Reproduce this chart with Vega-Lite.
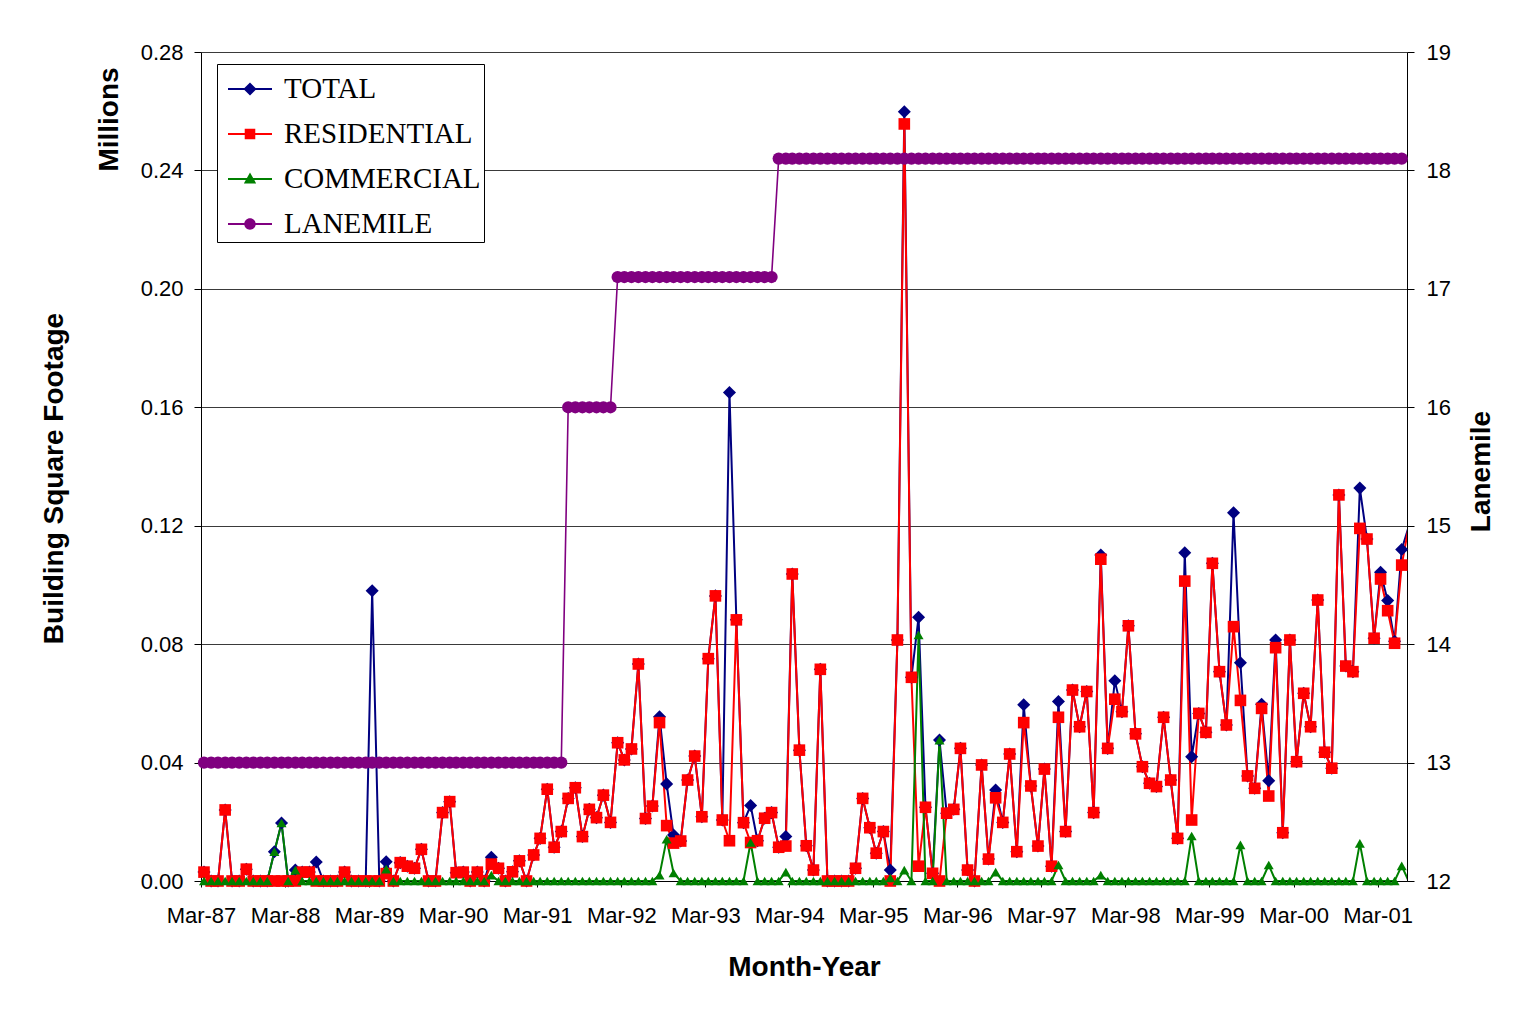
{
"$schema":"https://vega.github.io/schema/vega-lite/v6.json",
"autosize":{"type":"none"},
"padding":{"left":201,"top":52,"right":126,"bottom":139},
"width":1206,"height":829,
"background":"white",
"config":{"view":{"stroke":null},"font":"Liberation Sans",
 "legend":{"strokeWidth":1},
 "axis":{"labelFont":"Liberation Sans","titleFont":"Liberation Sans","labelColor":"black","titleColor":"black","tickColor":"black","domainColor":"black","labelFontSize":22,"titleFontSize":28,"titleFontWeight":"bold"}},
"data":{"values":[
{"d":"1987-02-14","TOTAL":0.0055,"RESIDENTIAL":0.0055,"COMMERCIAL":0,"LANEMILE":13},
{"d":"1987-03-14","TOTAL":0.003,"RESIDENTIAL":0.003,"COMMERCIAL":0,"LANEMILE":13},
{"d":"1987-04-14","TOTAL":0,"RESIDENTIAL":0,"COMMERCIAL":0,"LANEMILE":13},
{"d":"1987-05-14","TOTAL":0,"RESIDENTIAL":0,"COMMERCIAL":0,"LANEMILE":13},
{"d":"1987-06-14","TOTAL":0.024,"RESIDENTIAL":0.024,"COMMERCIAL":0,"LANEMILE":13},
{"d":"1987-07-14","TOTAL":0,"RESIDENTIAL":0,"COMMERCIAL":0,"LANEMILE":13},
{"d":"1987-08-14","TOTAL":0,"RESIDENTIAL":0,"COMMERCIAL":0,"LANEMILE":13},
{"d":"1987-09-14","TOTAL":0.004,"RESIDENTIAL":0.004,"COMMERCIAL":0,"LANEMILE":13},
{"d":"1987-10-14","TOTAL":0,"RESIDENTIAL":0,"COMMERCIAL":0,"LANEMILE":13},
{"d":"1987-11-14","TOTAL":0,"RESIDENTIAL":0,"COMMERCIAL":0,"LANEMILE":13},
{"d":"1987-12-14","TOTAL":0,"RESIDENTIAL":0,"COMMERCIAL":0,"LANEMILE":13},
{"d":"1988-01-14","TOTAL":0.0099,"RESIDENTIAL":0,"COMMERCIAL":0.0099,"LANEMILE":13},
{"d":"1988-02-14","TOTAL":0.0196,"RESIDENTIAL":0,"COMMERCIAL":0.0196,"LANEMILE":13},
{"d":"1988-03-14","TOTAL":0,"RESIDENTIAL":0,"COMMERCIAL":0,"LANEMILE":13},
{"d":"1988-04-14","TOTAL":0.0037,"RESIDENTIAL":0,"COMMERCIAL":0.0037,"LANEMILE":13},
{"d":"1988-05-14","TOTAL":0.003,"RESIDENTIAL":0.003,"COMMERCIAL":0,"LANEMILE":13},
{"d":"1988-06-14","TOTAL":0.003,"RESIDENTIAL":0.003,"COMMERCIAL":0,"LANEMILE":13},
{"d":"1988-07-14","TOTAL":0.0064,"RESIDENTIAL":0,"COMMERCIAL":0,"LANEMILE":13},
{"d":"1988-08-14","TOTAL":0,"RESIDENTIAL":0,"COMMERCIAL":0,"LANEMILE":13},
{"d":"1988-09-14","TOTAL":0,"RESIDENTIAL":0,"COMMERCIAL":0,"LANEMILE":13},
{"d":"1988-10-14","TOTAL":0,"RESIDENTIAL":0,"COMMERCIAL":0,"LANEMILE":13},
{"d":"1988-11-14","TOTAL":0.003,"RESIDENTIAL":0.003,"COMMERCIAL":0,"LANEMILE":13},
{"d":"1988-12-14","TOTAL":0,"RESIDENTIAL":0,"COMMERCIAL":0,"LANEMILE":13},
{"d":"1989-01-14","TOTAL":0,"RESIDENTIAL":0,"COMMERCIAL":0,"LANEMILE":13},
{"d":"1989-02-14","TOTAL":0,"RESIDENTIAL":0,"COMMERCIAL":0,"LANEMILE":13},
{"d":"1989-03-14","TOTAL":0.098,"RESIDENTIAL":0,"COMMERCIAL":0,"LANEMILE":13},
{"d":"1989-04-14","TOTAL":0,"RESIDENTIAL":0,"COMMERCIAL":0,"LANEMILE":13},
{"d":"1989-05-14","TOTAL":0.0065,"RESIDENTIAL":0.0025,"COMMERCIAL":0.004,"LANEMILE":13},
{"d":"1989-06-14","TOTAL":0,"RESIDENTIAL":0,"COMMERCIAL":0,"LANEMILE":13},
{"d":"1989-07-14","TOTAL":0.0062,"RESIDENTIAL":0.0062,"COMMERCIAL":0,"LANEMILE":13},
{"d":"1989-08-14","TOTAL":0.005,"RESIDENTIAL":0.005,"COMMERCIAL":0,"LANEMILE":13},
{"d":"1989-09-14","TOTAL":0.0043,"RESIDENTIAL":0.0043,"COMMERCIAL":0,"LANEMILE":13},
{"d":"1989-10-14","TOTAL":0.0107,"RESIDENTIAL":0.0107,"COMMERCIAL":0,"LANEMILE":13},
{"d":"1989-11-14","TOTAL":0,"RESIDENTIAL":0,"COMMERCIAL":0,"LANEMILE":13},
{"d":"1989-12-14","TOTAL":0,"RESIDENTIAL":0,"COMMERCIAL":0,"LANEMILE":13},
{"d":"1990-01-14","TOTAL":0.0231,"RESIDENTIAL":0.0231,"COMMERCIAL":0,"LANEMILE":13},
{"d":"1990-02-14","TOTAL":0.0268,"RESIDENTIAL":0.0268,"COMMERCIAL":0,"LANEMILE":13},
{"d":"1990-03-14","TOTAL":0.0028,"RESIDENTIAL":0.0028,"COMMERCIAL":0,"LANEMILE":13},
{"d":"1990-04-14","TOTAL":0.003,"RESIDENTIAL":0.003,"COMMERCIAL":0,"LANEMILE":13},
{"d":"1990-05-14","TOTAL":0,"RESIDENTIAL":0,"COMMERCIAL":0,"LANEMILE":13},
{"d":"1990-06-14","TOTAL":0.003,"RESIDENTIAL":0.003,"COMMERCIAL":0,"LANEMILE":13},
{"d":"1990-07-14","TOTAL":0,"RESIDENTIAL":0,"COMMERCIAL":0,"LANEMILE":13},
{"d":"1990-08-14","TOTAL":0.008,"RESIDENTIAL":0.0057,"COMMERCIAL":0.002,"LANEMILE":13},
{"d":"1990-09-14","TOTAL":0.0043,"RESIDENTIAL":0.0043,"COMMERCIAL":0,"LANEMILE":13},
{"d":"1990-10-14","TOTAL":0,"RESIDENTIAL":0,"COMMERCIAL":0,"LANEMILE":13},
{"d":"1990-11-14","TOTAL":0.0031,"RESIDENTIAL":0.0031,"COMMERCIAL":0,"LANEMILE":13},
{"d":"1990-12-14","TOTAL":0.0068,"RESIDENTIAL":0.0068,"COMMERCIAL":0,"LANEMILE":13},
{"d":"1991-01-14","TOTAL":0,"RESIDENTIAL":0,"COMMERCIAL":0,"LANEMILE":13},
{"d":"1991-02-14","TOTAL":0.0088,"RESIDENTIAL":0.0088,"COMMERCIAL":0,"LANEMILE":13},
{"d":"1991-03-14","TOTAL":0.0144,"RESIDENTIAL":0.0144,"COMMERCIAL":0,"LANEMILE":13},
{"d":"1991-04-14","TOTAL":0.031,"RESIDENTIAL":0.031,"COMMERCIAL":0,"LANEMILE":13},
{"d":"1991-05-14","TOTAL":0.0114,"RESIDENTIAL":0.0114,"COMMERCIAL":0,"LANEMILE":13},
{"d":"1991-06-14","TOTAL":0.0167,"RESIDENTIAL":0.0167,"COMMERCIAL":0,"LANEMILE":13},
{"d":"1991-07-14","TOTAL":0.0279,"RESIDENTIAL":0.0279,"COMMERCIAL":0,"LANEMILE":16},
{"d":"1991-08-14","TOTAL":0.0315,"RESIDENTIAL":0.0315,"COMMERCIAL":0,"LANEMILE":16},
{"d":"1991-09-14","TOTAL":0.015,"RESIDENTIAL":0.015,"COMMERCIAL":0,"LANEMILE":16},
{"d":"1991-10-14","TOTAL":0.0242,"RESIDENTIAL":0.0242,"COMMERCIAL":0,"LANEMILE":16},
{"d":"1991-11-14","TOTAL":0.0214,"RESIDENTIAL":0.0214,"COMMERCIAL":0,"LANEMILE":16},
{"d":"1991-12-14","TOTAL":0.029,"RESIDENTIAL":0.029,"COMMERCIAL":0,"LANEMILE":16},
{"d":"1992-01-14","TOTAL":0.0198,"RESIDENTIAL":0.0198,"COMMERCIAL":0,"LANEMILE":16},
{"d":"1992-02-14","TOTAL":0.0467,"RESIDENTIAL":0.0467,"COMMERCIAL":0,"LANEMILE":17.1},
{"d":"1992-03-14","TOTAL":0.0409,"RESIDENTIAL":0.0409,"COMMERCIAL":0,"LANEMILE":17.1},
{"d":"1992-04-14","TOTAL":0.0446,"RESIDENTIAL":0.0446,"COMMERCIAL":0,"LANEMILE":17.1},
{"d":"1992-05-14","TOTAL":0.0733,"RESIDENTIAL":0.0733,"COMMERCIAL":0,"LANEMILE":17.1},
{"d":"1992-06-14","TOTAL":0.0211,"RESIDENTIAL":0.0211,"COMMERCIAL":0,"LANEMILE":17.1},
{"d":"1992-07-14","TOTAL":0.0253,"RESIDENTIAL":0.0253,"COMMERCIAL":0,"LANEMILE":17.1},
{"d":"1992-08-14","TOTAL":0.0555,"RESIDENTIAL":0.0535,"COMMERCIAL":0.002,"LANEMILE":17.1},
{"d":"1992-09-14","TOTAL":0.0328,"RESIDENTIAL":0.0187,"COMMERCIAL":0.0141,"LANEMILE":17.1},
{"d":"1992-10-14","TOTAL":0.0155,"RESIDENTIAL":0.0128,"COMMERCIAL":0.0027,"LANEMILE":17.1},
{"d":"1992-11-14","TOTAL":0.0135,"RESIDENTIAL":0.0135,"COMMERCIAL":0,"LANEMILE":17.1},
{"d":"1992-12-14","TOTAL":0.0341,"RESIDENTIAL":0.0341,"COMMERCIAL":0,"LANEMILE":17.1},
{"d":"1993-01-14","TOTAL":0.0422,"RESIDENTIAL":0.0422,"COMMERCIAL":0,"LANEMILE":17.1},
{"d":"1993-02-14","TOTAL":0.0217,"RESIDENTIAL":0.0217,"COMMERCIAL":0,"LANEMILE":17.1},
{"d":"1993-03-14","TOTAL":0.0751,"RESIDENTIAL":0.0751,"COMMERCIAL":0,"LANEMILE":17.1},
{"d":"1993-04-14","TOTAL":0.0963,"RESIDENTIAL":0.0963,"COMMERCIAL":0,"LANEMILE":17.1},
{"d":"1993-05-14","TOTAL":0.0206,"RESIDENTIAL":0.0206,"COMMERCIAL":0,"LANEMILE":17.1},
{"d":"1993-06-14","TOTAL":0.165,"RESIDENTIAL":0.0136,"COMMERCIAL":0,"LANEMILE":17.1},
{"d":"1993-07-14","TOTAL":0.0882,"RESIDENTIAL":0.0882,"COMMERCIAL":0,"LANEMILE":17.1},
{"d":"1993-08-14","TOTAL":0.0197,"RESIDENTIAL":0.0197,"COMMERCIAL":0,"LANEMILE":17.1},
{"d":"1993-09-14","TOTAL":0.0255,"RESIDENTIAL":0.013,"COMMERCIAL":0.013,"LANEMILE":17.1},
{"d":"1993-10-14","TOTAL":0.0136,"RESIDENTIAL":0.0136,"COMMERCIAL":0,"LANEMILE":17.1},
{"d":"1993-11-14","TOTAL":0.0212,"RESIDENTIAL":0.0212,"COMMERCIAL":0,"LANEMILE":17.1},
{"d":"1993-12-14","TOTAL":0.0231,"RESIDENTIAL":0.0231,"COMMERCIAL":0,"LANEMILE":17.1},
{"d":"1994-01-14","TOTAL":0.0114,"RESIDENTIAL":0.0114,"COMMERCIAL":0,"LANEMILE":18.1},
{"d":"1994-02-14","TOTAL":0.015,"RESIDENTIAL":0.0118,"COMMERCIAL":0.003,"LANEMILE":18.1},
{"d":"1994-03-14","TOTAL":0.1037,"RESIDENTIAL":0.1037,"COMMERCIAL":0,"LANEMILE":18.1},
{"d":"1994-04-14","TOTAL":0.0442,"RESIDENTIAL":0.0442,"COMMERCIAL":0,"LANEMILE":18.1},
{"d":"1994-05-14","TOTAL":0.0119,"RESIDENTIAL":0.0119,"COMMERCIAL":0,"LANEMILE":18.1},
{"d":"1994-06-14","TOTAL":0.0037,"RESIDENTIAL":0.0037,"COMMERCIAL":0,"LANEMILE":18.1},
{"d":"1994-07-14","TOTAL":0.0715,"RESIDENTIAL":0.0715,"COMMERCIAL":0,"LANEMILE":18.1},
{"d":"1994-08-14","TOTAL":0,"RESIDENTIAL":0,"COMMERCIAL":0,"LANEMILE":18.1},
{"d":"1994-09-14","TOTAL":0,"RESIDENTIAL":0,"COMMERCIAL":0,"LANEMILE":18.1},
{"d":"1994-10-14","TOTAL":0,"RESIDENTIAL":0,"COMMERCIAL":0,"LANEMILE":18.1},
{"d":"1994-11-14","TOTAL":0,"RESIDENTIAL":0,"COMMERCIAL":0,"LANEMILE":18.1},
{"d":"1994-12-14","TOTAL":0.0043,"RESIDENTIAL":0.0043,"COMMERCIAL":0,"LANEMILE":18.1},
{"d":"1995-01-14","TOTAL":0.0279,"RESIDENTIAL":0.0279,"COMMERCIAL":0,"LANEMILE":18.1},
{"d":"1995-02-14","TOTAL":0.018,"RESIDENTIAL":0.018,"COMMERCIAL":0,"LANEMILE":18.1},
{"d":"1995-03-14","TOTAL":0.0094,"RESIDENTIAL":0.0094,"COMMERCIAL":0,"LANEMILE":18.1},
{"d":"1995-04-14","TOTAL":0.0167,"RESIDENTIAL":0.0167,"COMMERCIAL":0,"LANEMILE":18.1},
{"d":"1995-05-14","TOTAL":0.0037,"RESIDENTIAL":0,"COMMERCIAL":0.001,"LANEMILE":18.1},
{"d":"1995-06-14","TOTAL":0.0814,"RESIDENTIAL":0.0814,"COMMERCIAL":0,"LANEMILE":18.1},
{"d":"1995-07-14","TOTAL":0.2598,"RESIDENTIAL":0.2557,"COMMERCIAL":0.0037,"LANEMILE":18.1},
{"d":"1995-08-14","TOTAL":0.0688,"RESIDENTIAL":0.0688,"COMMERCIAL":0,"LANEMILE":18.1},
{"d":"1995-09-14","TOTAL":0.0891,"RESIDENTIAL":0.005,"COMMERCIAL":0.0831,"LANEMILE":18.1},
{"d":"1995-10-14","TOTAL":0.0249,"RESIDENTIAL":0.0249,"COMMERCIAL":0,"LANEMILE":18.1},
{"d":"1995-11-14","TOTAL":0.0026,"RESIDENTIAL":0.0026,"COMMERCIAL":0,"LANEMILE":18.1},
{"d":"1995-12-14","TOTAL":0.0476,"RESIDENTIAL":0,"COMMERCIAL":0.0476,"LANEMILE":18.1},
{"d":"1996-01-14","TOTAL":0.0229,"RESIDENTIAL":0.0229,"COMMERCIAL":0,"LANEMILE":18.1},
{"d":"1996-02-14","TOTAL":0.0242,"RESIDENTIAL":0.0242,"COMMERCIAL":0,"LANEMILE":18.1},
{"d":"1996-03-14","TOTAL":0.0448,"RESIDENTIAL":0.0448,"COMMERCIAL":0,"LANEMILE":18.1},
{"d":"1996-04-14","TOTAL":0.0037,"RESIDENTIAL":0.0037,"COMMERCIAL":0,"LANEMILE":18.1},
{"d":"1996-05-14","TOTAL":0,"RESIDENTIAL":0,"COMMERCIAL":0,"LANEMILE":18.1},
{"d":"1996-06-14","TOTAL":0.0392,"RESIDENTIAL":0.0392,"COMMERCIAL":0,"LANEMILE":18.1},
{"d":"1996-07-14","TOTAL":0.0074,"RESIDENTIAL":0.0074,"COMMERCIAL":0,"LANEMILE":18.1},
{"d":"1996-08-14","TOTAL":0.0307,"RESIDENTIAL":0.0281,"COMMERCIAL":0.003,"LANEMILE":18.1},
{"d":"1996-09-14","TOTAL":0.0198,"RESIDENTIAL":0.0198,"COMMERCIAL":0,"LANEMILE":18.1},
{"d":"1996-10-14","TOTAL":0.0429,"RESIDENTIAL":0.0429,"COMMERCIAL":0,"LANEMILE":18.1},
{"d":"1996-11-14","TOTAL":0.0099,"RESIDENTIAL":0.0099,"COMMERCIAL":0,"LANEMILE":18.1},
{"d":"1996-12-14","TOTAL":0.0595,"RESIDENTIAL":0.0535,"COMMERCIAL":0,"LANEMILE":18.1},
{"d":"1997-01-14","TOTAL":0.0321,"RESIDENTIAL":0.0321,"COMMERCIAL":0,"LANEMILE":18.1},
{"d":"1997-02-14","TOTAL":0.0118,"RESIDENTIAL":0.0118,"COMMERCIAL":0,"LANEMILE":18.1},
{"d":"1997-03-14","TOTAL":0.0378,"RESIDENTIAL":0.0378,"COMMERCIAL":0,"LANEMILE":18.1},
{"d":"1997-04-14","TOTAL":0.005,"RESIDENTIAL":0.005,"COMMERCIAL":0,"LANEMILE":18.1},
{"d":"1997-05-14","TOTAL":0.0606,"RESIDENTIAL":0.0553,"COMMERCIAL":0.0054,"LANEMILE":18.1},
{"d":"1997-06-14","TOTAL":0.0167,"RESIDENTIAL":0.0167,"COMMERCIAL":0,"LANEMILE":18.1},
{"d":"1997-07-14","TOTAL":0.0645,"RESIDENTIAL":0.0645,"COMMERCIAL":0,"LANEMILE":18.1},
{"d":"1997-08-14","TOTAL":0.0521,"RESIDENTIAL":0.0521,"COMMERCIAL":0,"LANEMILE":18.1},
{"d":"1997-09-14","TOTAL":0.064,"RESIDENTIAL":0.064,"COMMERCIAL":0,"LANEMILE":18.1},
{"d":"1997-10-14","TOTAL":0.0231,"RESIDENTIAL":0.0231,"COMMERCIAL":0,"LANEMILE":18.1},
{"d":"1997-11-14","TOTAL":0.1101,"RESIDENTIAL":0.1087,"COMMERCIAL":0.002,"LANEMILE":18.1},
{"d":"1997-12-14","TOTAL":0.0448,"RESIDENTIAL":0.0448,"COMMERCIAL":0,"LANEMILE":18.1},
{"d":"1998-01-14","TOTAL":0.0676,"RESIDENTIAL":0.0614,"COMMERCIAL":0,"LANEMILE":18.1},
{"d":"1998-02-14","TOTAL":0.0572,"RESIDENTIAL":0.0572,"COMMERCIAL":0,"LANEMILE":18.1},
{"d":"1998-03-14","TOTAL":0.0862,"RESIDENTIAL":0.0862,"COMMERCIAL":0,"LANEMILE":18.1},
{"d":"1998-04-14","TOTAL":0.0497,"RESIDENTIAL":0.0497,"COMMERCIAL":0,"LANEMILE":18.1},
{"d":"1998-05-14","TOTAL":0.0386,"RESIDENTIAL":0.0386,"COMMERCIAL":0,"LANEMILE":18.1},
{"d":"1998-06-14","TOTAL":0.033,"RESIDENTIAL":0.033,"COMMERCIAL":0,"LANEMILE":18.1},
{"d":"1998-07-14","TOTAL":0.0319,"RESIDENTIAL":0.0319,"COMMERCIAL":0,"LANEMILE":18.1},
{"d":"1998-08-14","TOTAL":0.0553,"RESIDENTIAL":0.0553,"COMMERCIAL":0,"LANEMILE":18.1},
{"d":"1998-09-14","TOTAL":0.0341,"RESIDENTIAL":0.0341,"COMMERCIAL":0,"LANEMILE":18.1},
{"d":"1998-10-14","TOTAL":0.0144,"RESIDENTIAL":0.0144,"COMMERCIAL":0,"LANEMILE":18.1},
{"d":"1998-11-14","TOTAL":0.1109,"RESIDENTIAL":0.1013,"COMMERCIAL":0,"LANEMILE":18.1},
{"d":"1998-12-14","TOTAL":0.042,"RESIDENTIAL":0.0206,"COMMERCIAL":0.0152,"LANEMILE":18.1},
{"d":"1999-01-14","TOTAL":0.0566,"RESIDENTIAL":0.0566,"COMMERCIAL":0,"LANEMILE":18.1},
{"d":"1999-02-14","TOTAL":0.0502,"RESIDENTIAL":0.0502,"COMMERCIAL":0,"LANEMILE":18.1},
{"d":"1999-03-14","TOTAL":0.1073,"RESIDENTIAL":0.1073,"COMMERCIAL":0,"LANEMILE":18.1},
{"d":"1999-04-14","TOTAL":0.0707,"RESIDENTIAL":0.0707,"COMMERCIAL":0,"LANEMILE":18.1},
{"d":"1999-05-14","TOTAL":0.0527,"RESIDENTIAL":0.0527,"COMMERCIAL":0,"LANEMILE":18.1},
{"d":"1999-06-14","TOTAL":0.1244,"RESIDENTIAL":0.0859,"COMMERCIAL":0,"LANEMILE":18.1},
{"d":"1999-07-14","TOTAL":0.0737,"RESIDENTIAL":0.061,"COMMERCIAL":0.0122,"LANEMILE":18.1},
{"d":"1999-08-14","TOTAL":0.0355,"RESIDENTIAL":0.0355,"COMMERCIAL":0,"LANEMILE":18.1},
{"d":"1999-09-14","TOTAL":0.0313,"RESIDENTIAL":0.0313,"COMMERCIAL":0,"LANEMILE":18.1},
{"d":"1999-10-14","TOTAL":0.0597,"RESIDENTIAL":0.0583,"COMMERCIAL":0,"LANEMILE":18.1},
{"d":"1999-11-14","TOTAL":0.0339,"RESIDENTIAL":0.0287,"COMMERCIAL":0.0054,"LANEMILE":18.1},
{"d":"1999-12-14","TOTAL":0.0814,"RESIDENTIAL":0.0788,"COMMERCIAL":0,"LANEMILE":18.1},
{"d":"2000-01-14","TOTAL":0.0163,"RESIDENTIAL":0.0163,"COMMERCIAL":0,"LANEMILE":18.1},
{"d":"2000-02-14","TOTAL":0.0814,"RESIDENTIAL":0.0814,"COMMERCIAL":0,"LANEMILE":18.1},
{"d":"2000-03-14","TOTAL":0.0403,"RESIDENTIAL":0.0403,"COMMERCIAL":0,"LANEMILE":18.1},
{"d":"2000-04-14","TOTAL":0.0634,"RESIDENTIAL":0.0634,"COMMERCIAL":0,"LANEMILE":18.1},
{"d":"2000-05-14","TOTAL":0.0521,"RESIDENTIAL":0.0521,"COMMERCIAL":0,"LANEMILE":18.1},
{"d":"2000-06-14","TOTAL":0.0949,"RESIDENTIAL":0.0949,"COMMERCIAL":0,"LANEMILE":18.1},
{"d":"2000-07-14","TOTAL":0.0435,"RESIDENTIAL":0.0435,"COMMERCIAL":0,"LANEMILE":18.1},
{"d":"2000-08-14","TOTAL":0.0381,"RESIDENTIAL":0.0381,"COMMERCIAL":0,"LANEMILE":18.1},
{"d":"2000-09-14","TOTAL":0.1304,"RESIDENTIAL":0.1304,"COMMERCIAL":0,"LANEMILE":18.1},
{"d":"2000-10-14","TOTAL":0.0726,"RESIDENTIAL":0.0726,"COMMERCIAL":0,"LANEMILE":18.1},
{"d":"2000-11-14","TOTAL":0.0707,"RESIDENTIAL":0.0707,"COMMERCIAL":0,"LANEMILE":18.1},
{"d":"2000-12-14","TOTAL":0.1327,"RESIDENTIAL":0.1191,"COMMERCIAL":0.0127,"LANEMILE":18.1},
{"d":"2001-01-14","TOTAL":0.1155,"RESIDENTIAL":0.1155,"COMMERCIAL":0,"LANEMILE":18.1},
{"d":"2001-02-14","TOTAL":0.082,"RESIDENTIAL":0.082,"COMMERCIAL":0,"LANEMILE":18.1},
{"d":"2001-03-14","TOTAL":0.1043,"RESIDENTIAL":0.102,"COMMERCIAL":0,"LANEMILE":18.1},
{"d":"2001-04-14","TOTAL":0.0947,"RESIDENTIAL":0.0913,"COMMERCIAL":0,"LANEMILE":18.1},
{"d":"2001-05-14","TOTAL":0.081,"RESIDENTIAL":0.0803,"COMMERCIAL":0,"LANEMILE":18.1},
{"d":"2001-06-14","TOTAL":0.112,"RESIDENTIAL":0.1067,"COMMERCIAL":0.0051,"LANEMILE":18.1},
{"d":"2001-07-14","TOTAL":0.1196,"RESIDENTIAL":0.1196,"COMMERCIAL":0,"LANEMILE":18.1},
{"d":"2001-08-14","TOTAL":0.105,"RESIDENTIAL":0.105,"COMMERCIAL":0,"LANEMILE":18.1}
]},
"layer":[
{
 "transform":[{"fold":["TOTAL","RESIDENTIAL","COMMERCIAL"],"as":["k","v"]}],
 "mark":{"type":"line","strokeWidth":2,"clip":true},
 "encoding":{
  "x":{"field":"d","type":"temporal","title":"Month-Year",
   "scale":{"type":"utc","domain":["1987-03-01T00:00:00Z","2001-07-07T00:00:00Z"]},
   "axis":{"values":["1987-03-01T00:00:00Z","1988-03-01T00:00:00Z","1989-03-01T00:00:00Z","1990-03-01T00:00:00Z","1991-03-01T00:00:00Z","1992-03-01T00:00:00Z","1993-03-01T00:00:00Z","1994-03-01T00:00:00Z","1995-03-01T00:00:00Z","1996-03-01T00:00:00Z","1997-03-01T00:00:00Z","1998-03-01T00:00:00Z","1999-03-01T00:00:00Z","2000-03-01T00:00:00Z","2001-03-01T00:00:00Z"],
    "format":"%b-%y","grid":false,"tickSize":6,"labelPadding":18,"titlePadding":27,"labelOverlap":false,"labelFlush":false}},
  "y":{"field":"v","type":"quantitative","scale":{"domain":[0,0.28],"nice":false},
   "axis":{"orient":"left","values":[0,0.04,0.08,0.12,0.16,0.2,0.24,0.28],"format":".2f","grid":true,"gridColor":"#3a3a3a","gridWidth":1,"tickSize":7,"labelPadding":11,
    "title":"Building Square Footage","titleAngle":270,"titleX":-139,"titleY":426,"titleAlign":"center","titleBaseline":"alphabetic"}},
  "color":{"field":"k","type":"nominal","legend":null,
   "scale":{"domain":["TOTAL","RESIDENTIAL","COMMERCIAL"],"range":["#000080","#FF0000","#008000"]}}
 }
},
{
 "transform":[{"filter":"false"}],
 "mark":{"type":"point","filled":true,"opacity":1},
 "encoding":{
  "x":{"field":"d","type":"temporal","scale":{"type":"utc","domain":["1987-03-01T00:00:00Z","2001-07-07T00:00:00Z"]}},
  "y":{"field":"TOTAL","type":"quantitative","scale":{"domain":[0,0.28],"nice":false},
   "axis":{"orient":"left","labels":false,"ticks":false,"domain":false,"grid":false,
    "title":"Millions","titleAngle":270,"titleX":-84,"titleY":67,"titleAlign":"center","titleBaseline":"alphabetic"}}
 }
},
{
 "transform":[{"fold":["TOTAL","RESIDENTIAL","COMMERCIAL"],"as":["k","v"]},
  {"filter":"time(datum.d) > utc(1987,2,1) && time(datum.d) < utc(2001,6,7)"}],
 "mark":{"type":"point","filled":true,"opacity":1},
 "encoding":{
  "x":{"field":"d","type":"temporal","scale":{"type":"utc","domain":["1987-03-01T00:00:00Z","2001-07-07T00:00:00Z"]}},
  "y":{"field":"v","type":"quantitative","scale":{"domain":[0,0.28],"nice":false},"axis":null},
  "color":{"field":"k","type":"nominal","legend":null,
   "scale":{"domain":["TOTAL","RESIDENTIAL","COMMERCIAL"],"range":["#000080","#FF0000","#008000"]}},
  "shape":{"field":"k","type":"nominal","legend":null,"scale":{"domain":["TOTAL","RESIDENTIAL","COMMERCIAL"],"range":["diamond","square","triangle-up"]}},
  "size":{"field":"k","type":"nominal","legend":null,"scale":{"domain":["TOTAL","RESIDENTIAL","COMMERCIAL"],"range":[170,100,160]}},
  "order":{"field":"k","sort":"descending"}
 }
},
{
 "encoding":{
  "x":{"field":"d","type":"temporal","scale":{"type":"utc","domain":["1987-03-01T00:00:00Z","2001-07-07T00:00:00Z"]}},
  "y":{"field":"LANEMILE","type":"quantitative","scale":{"domain":[12,19],"nice":false,"zero":false},
   "axis":{"orient":"right","values":[12,13,14,15,16,17,18,19],"grid":false,"tickSize":7,"labelPadding":12,
    "title":"Lanemile","titleAngle":270,"titleX":82,"titleY":419,"titleAlign":"center","titleBaseline":"alphabetic"}}
 },
 "layer":[
  {"mark":{"type":"line","color":"#800080","strokeWidth":1.6,"clip":true}},
  {"transform":[{"filter":"time(datum.d) > utc(1987,2,1) && time(datum.d) < utc(2001,6,7)"}],
   "mark":{"type":"point","filled":true,"opacity":1,"color":"#800080","shape":"circle","size":150}}
 ]
},
{
 "data":{"values":[{"k":"TOTAL"},{"k":"RESIDENTIAL"},{"k":"COMMERCIAL"},{"k":"LANEMILE"}]},
 "mark":{"type":"point","filled":true,"opacity":0},
 "encoding":{
  "color":{"field":"k","type":"nominal",
   "scale":{"domain":["TOTAL","RESIDENTIAL","COMMERCIAL","LANEMILE"],"range":["#000080","#FF0000","#008000","#800080"]},
   "legend":{"orient":"none","legendX":16,"legendY":12,"title":null,"direction":"vertical","symbolSize":1936,"symbolStrokeWidth":0,"symbolOpacity":1,
    "labelFont":"Liberation Serif","labelFontSize":29,"labelColor":"black","strokeColor":"black","fillColor":"white","padding":3,"rowPadding":8,"symbolOffset":8,"labelOffset":12,"labelLimit":500,
    "encode":{"symbols":{"update":{"opacity":{"value":1},"size":{"value":1936}}}}}},
  "shape":{"field":"k","type":"nominal",
   "scale":{"domain":["TOTAL","RESIDENTIAL","COMMERCIAL","LANEMILE"],"range":[
    "M-1,-0.045H1V0.045H-1ZM0,-0.3L0.3,0L0,0.3L-0.3,0Z",
    "M-1,-0.045H1V0.045H-1ZM-0.24,-0.24H0.24V0.24H-0.24Z",
    "M-1,-0.045H1V0.045H-1ZM0,-0.3L0.28,0.2H-0.28Z",
    "M-1,-0.045H1V0.045H-1ZM-0.26,0A0.26,0.26,0,1,1,0.26,0A0.26,0.26,0,1,1,-0.26,0Z"]}}
 }
}
],
"resolve":{"scale":{"y":"independent","color":"independent","shape":"independent"}}
}
